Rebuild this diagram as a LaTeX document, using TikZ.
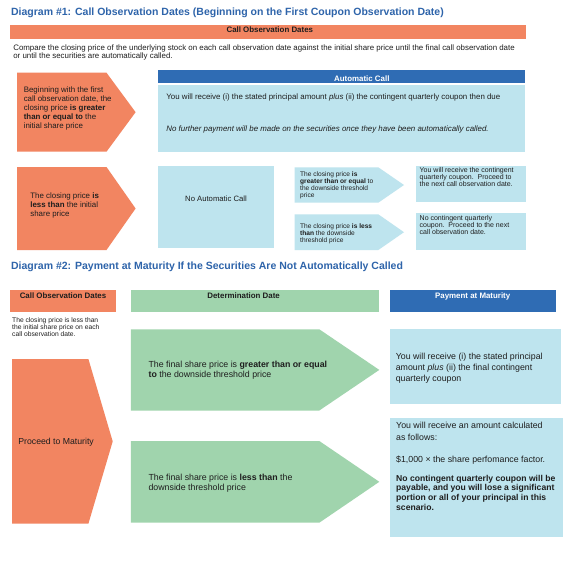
\documentclass[tikz,border=0pt]{standalone}
\usepackage{fontspec}
\setmainfont{Liberation Sans}
\definecolor{orangeC}{RGB}{242,133,97}
\definecolor{blueC}{RGB}{47,108,180}
\definecolor{lightC}{RGB}{190,228,238}
\definecolor{greenC}{RGB}{160,212,173}
\definecolor{titleC}{RGB}{46,100,170}
\definecolor{textC}{RGB}{30,30,30}
\begin{document}
\begin{tikzpicture}[x=1pt,y=-1pt,
  ofill/.style={fill=orangeC},
  bfill/.style={fill=blueC},
  lfill/.style={fill=lightC},
  gfill/.style={fill=greenC},
  titletxt/.style={inner sep=0,anchor=base west,text=titleC,font=\fontsize{10.5pt}{12pt}\selectfont\bfseries},
  hdrtxt/.style={inner sep=0,anchor=base,text=textC,font=\fontsize{7.9pt}{8pt}\selectfont\bfseries},
  whdrtxt/.style={hdrtxt,text=white},
  txt/.style={inner sep=0,anchor=north west,align=left,text=textC},
]
\useasboundingbox[fill=white] (0,0) rectangle (570,568);

% ---------- Diagram 1 ----------
\node[titletxt] (t1) at (10.9,15.5) {Diagram \#1: Call Observation Dates (Beginning on the First Coupon Observation Date)};

\path[ofill] (10.2,25) rectangle (525.8,39);
\node[hdrtxt] (h1) at (269.8,32.8) {Call Observation Dates};

\node[txt,font=\fontsize{7.9pt}{7.7pt}\selectfont] (cmp) at (13.1,44.5)
 {Compare the closing price of the underlying stock on each call observation date against the initial share price until the final call observation date\\or until the securities are automatically called.};

\path[ofill] (17.1,72.7) -- (106.5,72.7) -- (135.6,112.2) -- (106.5,151.7) -- (17.1,151.7) -- cycle;
\node[txt,font=\fontsize{7.9pt}{9pt}\selectfont] (p1) at (23.6,86.5)
 {Beginning with the first\\call observation date, the\\closing price \textbf{is greater}\\\textbf{than or equal to} the\\initial share price};

\path[bfill] (158.2,70) rectangle (525.1,82.7);
\node[whdrtxt] (h2) at (361.8,81.6) {Automatic Call};
\path[lfill] (158.2,85) rectangle (525.1,151.7);
\node[txt,anchor=base west,font=\fontsize{7.9pt}{8pt}\selectfont] (ac1) at (166.2,99.5)
 {You will receive (i) the stated principal amount \textit{plus} (ii) the contingent quarterly coupon then due};
\node[txt,anchor=base west,font=\fontsize{7.9pt}{8pt}\selectfont\itshape] (ac2) at (166.2,131.9)
 {No further payment will be made on the securities once they have been automatically called.};

\path[ofill] (17.1,167) -- (106.5,167) -- (135.6,208.5) -- (106.5,250) -- (17.1,250) -- cycle;
\node[txt,font=\fontsize{7.9pt}{8.8pt}\selectfont] (p2) at (30.2,192.9)
 {The closing price \textbf{is}\\\textbf{less than} the initial\\share price};

\path[lfill] (158.2,166) rectangle (273.8,247.7);
\node[inner sep=0,text=textC,font=\fontsize{7.7pt}{8pt}\selectfont] (nac) at (216,199) {No Automatic Call};

\path[lfill] (294.5,167.3) -- (378.3,167.3) -- (404,185) -- (378.3,202.7) -- (294.5,202.7) -- cycle;
\node[txt,font=\fontsize{6.6pt}{6.8pt}\selectfont] (pa) at (300,171.9)
 {The closing price \textbf{is}\\\textbf{greater than or equal} to\\the downside threshold\\price};
\path[lfill] (416,166) rectangle (525.5,201.7);
\node[txt,font=\fontsize{7pt}{7pt}\selectfont] (ba) at (419.5,166.8)
 {You will receive the contingent\\quarterly coupon.\ \ Proceed to\\the next call observation date.};

\path[lfill] (294.5,214.3) -- (378.3,214.3) -- (404,232.2) -- (378.3,250) -- (294.5,250) -- cycle;
\node[txt,font=\fontsize{6.6pt}{6.8pt}\selectfont] (pb) at (300,223.9)
 {The closing price \textbf{is less}\\\textbf{than} the downside\\threshold price};
\path[lfill] (416,213.3) rectangle (525.5,250);
\node[txt,font=\fontsize{7pt}{7pt}\selectfont] (bb) at (419.5,214.8)
 {No contingent quarterly\\coupon.\ \ Proceed to the next\\call observation date.};

% ---------- Diagram 2 ----------
\node[titletxt] (t2) at (10.9,269.5) {Diagram \#2: Payment at Maturity If the Securities Are Not Automatically Called};

\path[ofill] (10,290) rectangle (115.6,311.5);
\node[hdrtxt] (h3) at (63,298.3) {Call Observation Dates};
\path[gfill] (130.9,290) rectangle (379.3,311.5);
\node[hdrtxt] (h4) at (243.6,298.3) {Determination Date};
\path[bfill] (390.2,290) rectangle (555.6,311.5);
\node[whdrtxt] (h5) at (472.7,298.3) {Payment at Maturity};

\node[txt,font=\fontsize{6.7pt}{6.7pt}\selectfont] (lt) at (12,317.6)
 {The closing price is less than\\the initial share price on each\\call observation date.};

\path[ofill] (12,359) -- (88.4,359) -- (112.7,441.4) -- (88.4,523.7) -- (12,523.7) -- cycle;
\node[txt,anchor=base west,font=\fontsize{8.7pt}{10pt}\selectfont] (pm) at (18.2,444.8) {Proceed to Maturity};

\path[gfill] (130.9,329.3) -- (319.3,329.3) -- (379.3,369.9) -- (319.3,410.5) -- (130.9,410.5) -- cycle;
\node[txt,font=\fontsize{8.8pt}{10pt}\selectfont] (g1) at (148.4,361.1)
 {The final share price is \textbf{greater than or equal}\\\textbf{to} the downside threshold price};

\path[gfill] (130.9,441) -- (319.3,441) -- (379.3,481.8) -- (319.3,522.7) -- (130.9,522.7) -- cycle;
\node[txt,font=\fontsize{8.8pt}{10pt}\selectfont] (g2) at (148.4,473.5)
 {The final share price is \textbf{less than} the\\downside threshold price};

\path[lfill] (390.2,329.3) rectangle (560.5,404);
\node[txt,font=\fontsize{8.8pt}{11pt}\selectfont] (m1) at (395.6,352.8)
 {You will receive (i) the stated principal\\amount \textit{plus} (ii) the final contingent\\quarterly coupon};

\path[lfill] (390.2,417.7) rectangle (562.5,536.7);
\node[txt,font=\fontsize{8.8pt}{12.3pt}\selectfont] (m2) at (396,421.8)
 {You will receive an amount calculated\\as follows:};
\node[txt,font=\fontsize{8.8pt}{10pt}\selectfont] (m3) at (396,456.1)
 {\$1,000 × the share perfomance factor.};
\node[txt,font=\fontsize{8.6pt}{9.7pt}\selectfont\bfseries] (m4) at (396,474.6)
 {No contingent quarterly coupon will be\\payable, and you will lose a significant\\portion or all of your principal in this\\scenario.};
\end{tikzpicture}
\end{document}
